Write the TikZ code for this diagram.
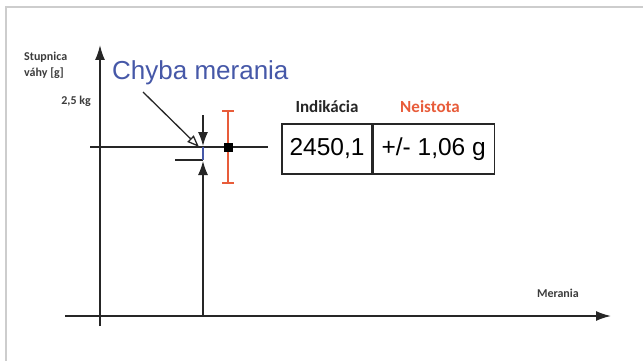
\documentclass[tikz,border=0pt]{standalone}
\usepackage{fontspec}
\setmainfont{Liberation Sans}
\newfontfamily\calib{Carlito}
\usetikzlibrary{arrows.meta}
\definecolor{errblue}{RGB}{70,88,168}
\definecolor{uncred}{RGB}{232,92,58}
\definecolor{labgray}{RGB}{60,60,60}
\definecolor{framegray}{RGB}{205,205,205}
\tikzset{
  axis/.style={line width=1.6pt, black!85, -{Latex[length=15pt,width=10pt]}},
  plain/.style={line width=1.6pt, black!85},
  meas/.style={line width=1.4pt, black!85, -{Latex[length=14pt,width=10pt]}},
  smalllab/.style={font=\calib\bfseries\fontsize{12}{14}\selectfont, text=labgray, inner sep=0pt},
  headlab/.style={font=\calib\bfseries\fontsize{17}{20}\selectfont, inner sep=0pt},
  cellbox/.style={draw=black!85, line width=1.2pt, minimum height=50pt, inner sep=0pt, font=\fontsize{24.5}{28}\selectfont}
}
\begin{document}
\begin{tikzpicture}[x=1pt,y=-1pt]
\useasboundingbox (0,0) rectangle (643,361);
\fill[white] (0,0) rectangle (643,361);
\draw[framegray, line width=1.2pt] (6,361) -- (6,7) -- (643,7);
% axes
\coordinate (yb) at (100,326);
\coordinate (yt) at (100,45);
\coordinate (xl) at (65,316);
\coordinate (xr) at (611,316);
\draw[axis] (yb) -- (yt);
\draw[axis] (xl) -- (xr);
% horizontal reference line
\coordinate (hl) at (90,147);
\coordinate (hr) at (268,147);
\draw[plain] (hl) -- (hr);
% small horizontal line
\coordinate (sl) at (175,160);
\coordinate (sr) at (203,160);
\draw[line width=1.3pt, black!85] (sl) -- (sr);
% measurement arrows
\coordinate (mt0) at (203,115);
\coordinate (mt1) at (203,146);
\coordinate (mb0) at (203,316);
\coordinate (mb1) at (203,161);
\draw[meas] (mt0) -- (mt1);
\draw[meas] (mb0) -- (mb1);
% error (blue)
\coordinate (e0) at (203,147);
\coordinate (e1) at (203,160);
\draw[errblue, line width=1.4pt] (e0) -- (e1);
% uncertainty bar
\coordinate (u0) at (228,111);
\coordinate (u1) at (228,183);
\draw[uncred, line width=1.3pt] (u0) -- (u1);
\draw[uncred, line width=1.3pt] ([xshift=-6pt]u0) -- ([xshift=6pt]u0);
\draw[uncred, line width=1.3pt] ([xshift=-6pt]u1) -- ([xshift=6pt]u1);
\node[fill=black, minimum size=9pt, inner sep=0pt] (sq) at (228,147) {};
% labels
\node[smalllab, anchor=west] (stup) at (24,57) {Stupnica};
\node[smalllab, anchor=west] (vahy) at (24,73) {váhy [g]};
\node[smalllab, anchor=east] (kg) at (91,101) {2,5 kg};
\node[smalllab, anchor=east] (mer) at (579,293) {Merania};
\node[font=\fontsize{26}{30}\selectfont, text=errblue, anchor=west, inner sep=0pt] (chyba) at (112,73) {Chyba merania};
\coordinate (da) at (143,92);
\coordinate (db) at (199,147);
\draw[line width=1.3pt, black!85, -{Triangle[open,length=12pt,width=9pt,fill=white]}] (da) -- (db);
% table
\node[cellbox, minimum width=90pt] (ind) at (327,149) {2450,1};
\node[cellbox, minimum width=121pt, anchor=west] (neis) at (ind.east) {+/- 1,06 g};
\node[headlab, text=black!85] (indh) at (327,107) {Indikácia};
\node[headlab, text=uncred] (neish) at (430,107) {Neistota};
\end{tikzpicture}
\end{document}
